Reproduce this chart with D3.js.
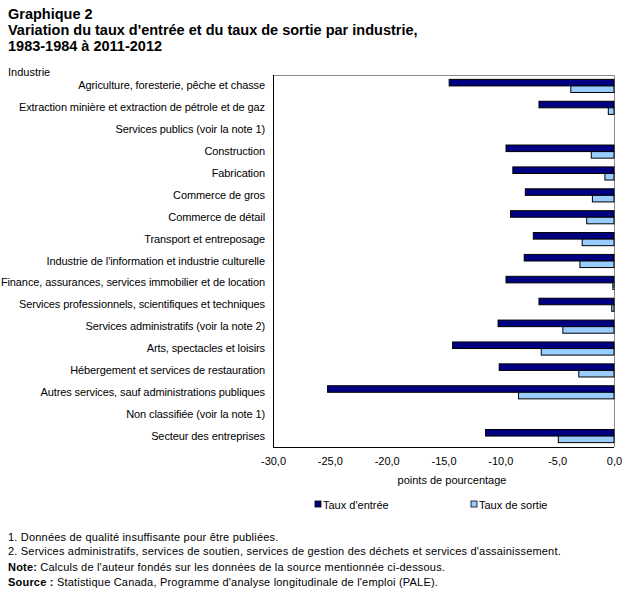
<!DOCTYPE html>
<html>
<head>
<meta charset="utf-8">
<script src="https://cdn.jsdelivr.net/npm/d3@7"></script>
<style>
    body { margin: 0; background: #fff; }
    svg { font-family: "Liberation Sans", Arial, sans-serif; }
</style>
</head>
<body>
<div id="chart"></div>
<script>
// categories, top to bottom
var industries = [
    "Agriculture, foresterie, pêche et chasse",
    "Extraction minière et extraction de pétrole et de gaz",
    "Services publics (voir la note 1)",
    "Construction",
    "Fabrication",
    "Commerce de gros",
    "Commerce de détail",
    "Transport et entreposage",
    "Industrie de l'information et industrie culturelle",
    "Finance, assurances, services immobilier et de location",
    "Services professionnels, scientifiques et techniques",
    "Services administratifs (voir la note 2)",
    "Arts, spectacles et loisirs",
    "Hébergement et services de restauration",
    "Autres services, sauf administrations publiques",
    "Non classifiée  (voir la note 1)",
    "Secteur des entreprises"
];
// null = not published
var tauxEntree = [-14.5, -6.6, null, -9.5, -8.9, -7.8, -9.1, -7.1, -7.9, -9.5, -6.6, -10.2, -14.2, -10.1, -25.2, null, -11.3];
var tauxSortie = [-3.8, -0.5, null, -2.0, -0.8, -1.9, -2.4, -2.8, -3.0, -0.1, -0.2, -4.5, -6.4, -3.1, -8.4, null, -4.9];
var seriesNames = ["Taux d'entrée", "Taux de sortie"];
var xTicks = [-30, -25, -20, -15, -10, -5, 0];

var colors = ["#000080", "#99ccff"];

var W = 631, H = 605;
var margin = { top: 75, left: 273, right: 17, bottom: 158 };
var width = W - margin.left - margin.right,
    height = H - margin.top - margin.bottom;

var svg = d3.select("#chart").append("svg")
    .attr("width", W).attr("height", H);

// title
var title = svg.append("text").attr("x", 8).attr("y", 19)
    .style("font-size", "14.5px").style("font-weight", "bold");
["Graphique 2",
 "Variation du taux d'entrée et du taux de sortie par industrie,",
 "1983-1984 à 2011-2012"].forEach(function (t, i) {
    title.append("tspan").attr("x", 8).attr("dy", i == 0 ? 0 : 16).text(t);
});

svg.append("text").attr("x", 8).attr("y", 76)
    .style("font-size", "11px").text("Industrie");

var g = svg.append("g").attr("transform", "translate(" + margin.left + "," + margin.top + ")");

var x = d3.scaleLinear().domain([-30, 0]).range([0, width]);
var y0 = d3.scaleBand().domain(industries).range([0, height]).paddingInner(0.4).paddingOuter(0.2);
var y1 = d3.scaleBand().domain([0, 1]).range([0, y0.bandwidth()]);

// plot frame: top and right grey, left and bottom black
g.append("line").attr("x1", 0).attr("x2", width).attr("y1", 0.5).attr("y2", 0.5)
    .attr("stroke", "#8c8c8c");
g.append("line").attr("x1", width + 0.5).attr("x2", width + 0.5).attr("y1", 0).attr("y2", height)
    .attr("stroke", "#8c8c8c");

// bars
[tauxEntree, tauxSortie].forEach(function (vals, s) {
    g.append("g").selectAll("rect")
        .data(vals.map(function (v, i) { return { v: v, c: industries[i] }; }).filter(function (d) { return d.v !== null; }))
        .enter().append("rect")
        .attr("x", function (d) { return x(d.v); })
        .attr("y", function (d) { return y0(d.c) + y1(s); })
        .attr("width", function (d) { return x(0) - x(d.v); })
        .attr("height", y1.bandwidth())
        .attr("fill", colors[s])
        .attr("stroke", "#000")
        .attr("stroke-width", 1);
});

// category labels
var yAxis = g.append("g")
    .call(d3.axisLeft(y0).tickSize(0).tickPadding(8));
yAxis.select(".domain").attr("stroke", "#000").attr("d", "M0.5,0V" + height);
yAxis.selectAll("text").style("font-size", "11px").style("letter-spacing", "-0.1px").attr("fill", "#000")
    .attr("dy", "0.32em");

// x axis
var xAxis = g.append("g").attr("transform", "translate(0," + height + ")")
    .call(d3.axisBottom(x).tickValues(xTicks).tickSize(0).tickPadding(10)
        .tickFormat(function (d) { return d3.format(".1f")(d).replace(".", ",").replace("−", "-"); }));
xAxis.select(".domain").attr("stroke", "#000").attr("d", "M0," + 0.5 + "H" + width);
xAxis.selectAll("text").style("font-size", "11px").attr("fill", "#000");

svg.append("text").attr("x", 452).attr("y", 484).attr("text-anchor", "middle")
    .style("font-size", "11px").text("points de pourcentage");

// legend
var legendX = [315, 471];
seriesNames.forEach(function (name, i) {
    var lg = svg.append("g").attr("transform", "translate(" + legendX[i] + ",501)");
    lg.append("rect").attr("width", 6).attr("height", 6)
        .attr("fill", colors[i]).attr("stroke", "#000").attr("stroke-width", 0.8);
    lg.append("text").attr("x", 8).attr("y", 8).style("font-size", "11px").text(name);
});

// notes
var notes = [
    { y: 541, b: "", t: "1. Données de qualité insuffisante pour être publiées." },
    { y: 555, b: "", t: "2. Services administratifs, services de soutien, services de gestion des déchets et services d'assainissement." },
    { y: 571, b: "Note:", t: " Calculs de l'auteur  fondés sur les données de la source mentionnée ci-dessous." },
    { y: 586, b: "Source :", t: "  Statistique Canada, Programme d'analyse longitudinale de l'emploi (PALE)." }
];
notes.forEach(function (n) {
    var t = svg.append("text").attr("x", 8).attr("y", n.y)
        .style("font-size", "11px").style("letter-spacing", "0.2px");
    if (n.b) t.append("tspan").style("font-weight", "bold").text(n.b);
    t.append("tspan").text(n.t);
});
</script>
</body>
</html>
